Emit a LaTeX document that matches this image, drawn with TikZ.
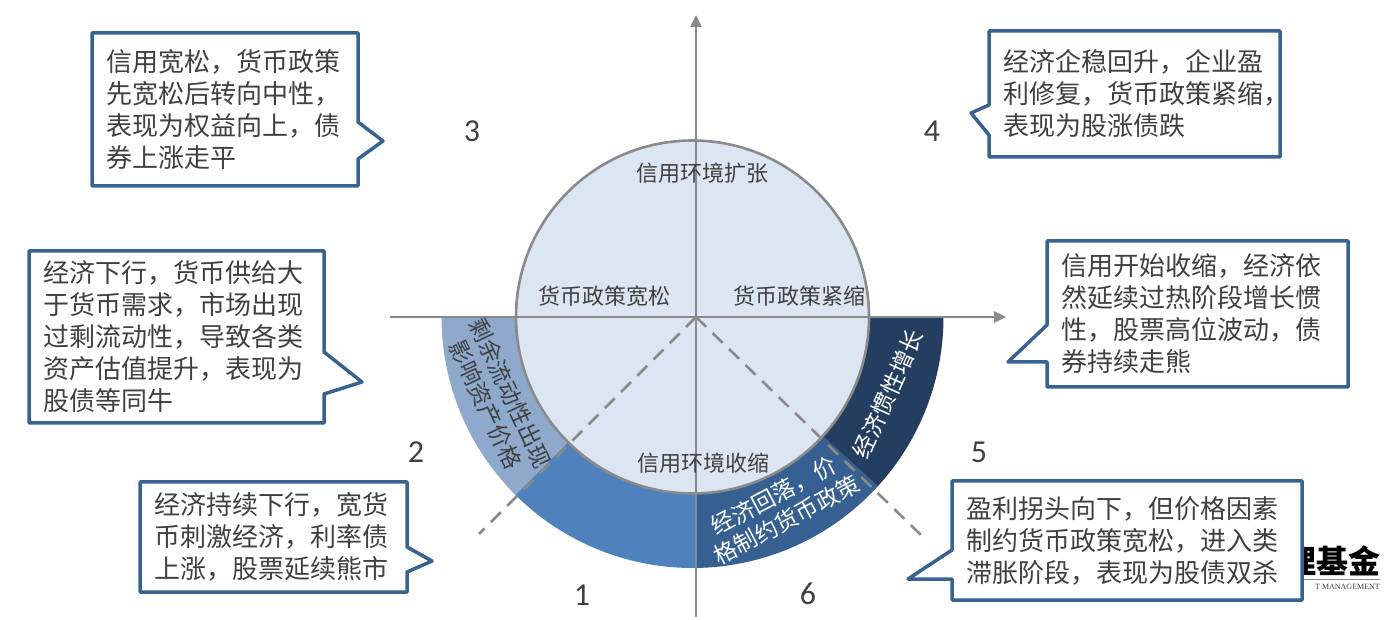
\documentclass[tikz,border=0pt]{standalone}
\usepackage{fontspec}
\setmainfont{Noto Sans CJK SC}
\newfontfamily\digitfont{Carlito}
\newfontfamily\logofont{Liberation Serif}
\definecolor{axisgray}{RGB}{138, 138, 138}
\definecolor{textgray}{RGB}{64, 64, 64}
\definecolor{boxblue}{RGB}{56, 98, 146}
\definecolor{discfill}{RGB}{220, 230, 242}
\definecolor{sectorone}{RGB}{79, 129, 189}
\definecolor{sectortwo}{RGB}{142, 169, 203}
\definecolor{sectorfive}{RGB}{36, 62, 98}
\definecolor{sectorsix}{RGB}{54, 96, 146}
\usetikzlibrary{arrows.meta}

\begin{document}
\begin{tikzpicture}[
		x=1pt, y=1pt,
		callbox/.style={fill=white, text=textgray, font=\fontsize{26}{32}\selectfont, align=left, inner xsep=14.5pt, inner ysep=0pt, outer sep=0pt},
		outline/.style={draw=boxblue, line width=3.5pt, line join=round},
		axisline/.style={draw=axisgray, line width=2.8pt, -{Triangle[length=12pt, width=11pt]}},
		dashline/.style={draw=axisgray, line width=2.6pt, dash pattern=on 14pt off 9pt},
		disclabel/.style={text=textgray, font=\fontsize{22}{26}\selectfont, inner sep=0pt},
		bandlabel/.style={font=\fontsize{23}{27.5}\selectfont, align=center, inner sep=0pt},
		phase/.style={text=textgray, font=\digitfont\fontsize{32}{32}\selectfont, inner sep=0pt}
		]
		
		\useasboundingbox (0,0) rectangle (1393,619);
		
		\coordinate (c) at (692.5,302);
		\foreach \a/\b/\col in {-180/-134.8/sectortwo, -134.8/-89.2/sectorone, -89.2/-42.4/sectorsix, -42.4/0/sectorfive}{
			\fill[\col] (c) -- ++(\a:251) arc[start angle=\a, end angle=\b, radius=251] -- cycle;
		}
		\node[circle, draw=axisgray, line width=2.6pt, fill=discfill, minimum size=353pt, inner sep=0pt] (disc) at (c) {};
		
		\coordinate (o) at (696,302);
		\coordinate (xleft) at (390,302);
		\coordinate (xright) at (1006,302);
		\coordinate (ybottom) at (696,2);
		\coordinate (ytop) at (696,604);
		\coordinate (dashleft) at (479,85);
		\coordinate (dashright) at (921,84);
		\draw[axisline] (xleft)--(xright);
		\draw[axisline] (ybottom)--(ytop);
		\draw[dashline] (o)--(dashleft);
		\draw[dashline] (o)--(dashright);
		
		\node[disclabel] (expand) at (702,446) {信用环境扩张};
		\node[disclabel] (shrink) at (703,156) {信用环境收缩};
		\node[disclabel] (loose) at (604,323) {货币政策宽松};
		\node[disclabel] (tight) at (799,323) {货币政策紧缩};
		
		\node[bandlabel, text=textgray, rotate=-65] (band2) at (498,220) {剩余流动性出现\\影响资产价格};
		\node[bandlabel, text=white, rotate=66] (band5) at (888,225) {经济惯性增长};
		\node[bandlabel, text=white, rotate=28] (band6) at (780,111) {经济回落，价\\格制约货币政策};
		
		\node[phase] (p1) at (582,24) {1};
		\node[phase] (p2) at (416,167) {2};
		\node[phase] (p3) at (472,488) {3};
		\node[phase] (p4) at (932,488) {4};
		\node[phase] (p5) at (979,167) {5};
		\node[phase] (p6) at (808,25) {6};
		
		\node[font=\bfseries\fontsize{32}{32}\selectfont, anchor=east, inner sep=0pt] (logo) at (1381,58) {理基金};
		\node[font=\logofont\fontsize{8}{8}\selectfont, text=textgray, anchor=east, inner sep=0pt] (logosub) at (1380,32) {T MANAGEMENT};
		\coordinate (ruleright) at (1380,40);
		\coordinate (ruleleft) at (1300,40);
		\draw[axisgray, line width=0.6pt] (ruleleft)--(ruleright);
		
		\node[callbox, text width=237pt, minimum height=153pt] (b3) at (225,509.5) {信用宽松，货币政策\\先宽松后转向中性，\\表现为权益向上，债\\券上涨走平};
		\node[callbox, text width=262pt, minimum height=126pt] (b4) at (1134.5,525) {经济企稳回升，企业盈\\利修复，货币政策紧缩，\\表现为股涨债跌};
		\node[callbox, text width=272pt, minimum height=146pt] (b5) at (1197.5,305) {信用开始收缩，经济依\\然延续过热阶段增长惯\\性，股票高位波动，债\\券持续走熊};
		\node[callbox, text width=266pt, minimum height=172pt] (b2) at (176.5,282) {经济下行，货币供给大\\于货币需求，市场出现\\过剩流动性，导致各类\\资产估值提升，表现为\\股债等同牛};
		\node[callbox, text width=238pt, minimum height=110pt] (b1) at (273.5,82) {经济持续下行，宽货\\币刺激经济，利率债\\上涨，股票延续熊市};
		\node[callbox, text width=321pt, minimum height=119pt] (b6) at (1127,78.5) {盈利拐头向下，但价格因素\\制约货币政策宽松，进入类\\滞胀阶段，表现为股债双杀};
		
		\foreach \n/\tx/\ty/\ya/\yc in {b3/383/478/497/460, b2/362/237/267/225, b1/432/58/72/47}{
			\coordinate (\n tip) at (\tx,\ty);
			\draw[outline] (\n.north west)--(\n.north east)--(\n.east |- 0,\ya)--(\n tip)--(\n.east |- 0,\yc)--(\n.south east)--(\n.south west)--cycle;
		}
		\foreach \n/\tx/\ty/\ya/\yc in {b4/971/506/514/484, b5/1008/257/294/257, b6/908/40/69/40}{
			\coordinate (\n tip) at (\tx,\ty);
			\draw[outline] (\n.north west)--(\n.north east)--(\n.south east)--(\n.south west)--(\n.west |- 0,\yc)--(\n tip)--(\n.west |- 0,\ya)--cycle;
		}
	\end{tikzpicture}
\end{document}
